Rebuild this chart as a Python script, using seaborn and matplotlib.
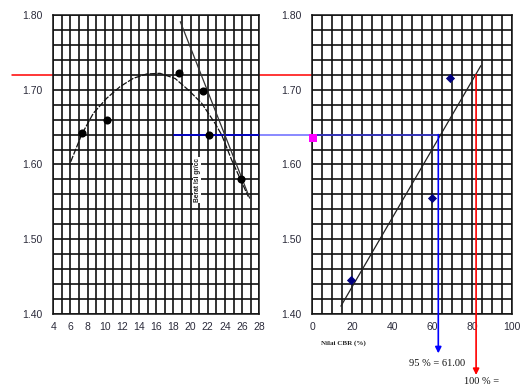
import numpy as np
import pandas as pd
import matplotlib
matplotlib.use("Agg")
import matplotlib.pyplot as plt
import matplotlib.transforms as mtransforms
from matplotlib.lines import Line2D
from matplotlib.ticker import MultipleLocator, FormatStrFormatter
import seaborn as sns

# ---------------- data ----------------
# left panel: water content (%) vs dry density
kadar_air = [7.34, 10.29, 18.7, 21.4, 22.14, 25.83]
berat_isi = [1.642, 1.6595, 1.722, 1.6987, 1.6395, 1.580]

# compaction curve drawn through the points
curve_x = [6.03, 7.3, 8.66, 10.22, 11.77, 13.32, 14.88, 16.43, 18.2, 19.73,
           21.29, 22.84, 23.62, 24.78, 25.75, 26.72]
curve_y = [1.6037, 1.640, 1.6685, 1.6886, 1.7041, 1.7153, 1.7211, 1.722, 1.715, 1.6997,
           1.6819, 1.6551, 1.6395, 1.606, 1.5815, 1.557]

# steep straight line (zero-air-voids style) end points
zav_x = [18.8, 26.88]
zav_y = [1.791, 1.555]

# right panel: CBR value (%) vs dry density
cbr = [19.35, 60.0, 68.85]
cbr_isi = [1.4455, 1.5548, 1.7153]
trend_range = [14.3, 84.3]

mdd = 1.72          # maximum dry density level (100 %)
mdd95 = 1.64        # 95 % level
cbr95_x = 63.0
cbr100_x = 81.9
pink_pt = (0.5, 1.635)

left_xticks = list(range(4, 29, 2))
right_xticks = list(range(0, 101, 20))
yticks = [1.40, 1.50, 1.60, 1.70, 1.80]

label_95 = "95 % = 61.00"
label_100 = "100 % ="
xlabel_right = "Nilai CBR (%)"
ylabel_rot = "Berat Isi gr/cc"

# ---------------- figure ----------------
sns.set_style("white")
plt.rcParams['font.family'] = ['Liberation Sans', 'DejaVu Sans']

W, H = 523, 387
fig = plt.figure(figsize=(W / 100, H / 100), dpi=100)
bottom = (H - 314) / H
height = 299 / H
ax1 = fig.add_axes([53.3 / W, bottom, 206 / W, height])
ax2 = fig.add_axes([312.3 / W, bottom, 200 / W, height])

tick_col = '#2b2b3b'
for ax, xmin, xmax, xmajor, xminor, xt in [
        (ax1, 4, 28, 2, 1, left_xticks),
        (ax2, 0, 100, 20, 5, right_xticks)]:
    ax.set_xlim(xmin, xmax)
    ax.set_ylim(1.40, 1.80)
    ax.set_xticks(xt)
    ax.set_yticks(yticks)
    ax.xaxis.set_minor_locator(MultipleLocator(xminor))
    ax.yaxis.set_minor_locator(MultipleLocator(0.02))
    ax.yaxis.set_major_formatter(FormatStrFormatter('%.2f'))
    ax.grid(which='both', color='#111111', lw=1.2)
    ax.set_axisbelow(True)
    ax.tick_params(which='major', direction='out', length=3, width=0.8,
                   color='#333333', labelsize=7.5, labelcolor=tick_col, pad=3)
    ax.tick_params(which='minor', length=0)
    ax.tick_params(axis='y', pad=5)
    for s in ax.spines.values():
        s.set_color('#111111')
        s.set_linewidth(1.1)
    ax.set_xlabel('')
    ax.set_ylabel('')

# guide lines outside the axes (figure level, hidden behind axes faces)
blend1 = mtransforms.blended_transform_factory(fig.transFigure, ax1.transData)
fig.add_artist(Line2D([12 / W, 312.3 / W], [mdd, mdd], transform=blend1,
                      color='#ff0000', lw=1.1, zorder=-1))
fig.add_artist(Line2D([250 / W, 312.3 / W], [mdd95, mdd95], transform=blend1,
                      color='#8080ff', lw=1.3, zorder=-1))

# ---- left panel ----
ax1.plot([18.1, 28], [mdd95, mdd95], color='#0000cc', lw=1.3, zorder=3)
sns.lineplot(x=curve_x, y=curve_y, sort=False, ax=ax1, color='#111111', lw=0.9,
             linestyle=(0, (5, 1.2)), zorder=4)
sns.lineplot(x=zav_x, y=zav_y, sort=False, ax=ax1, color='#333333', lw=0.9, zorder=4)
sns.scatterplot(x=kadar_air, y=berat_isi, ax=ax1, color='black', s=34,
                edgecolor='black', linewidth=0, zorder=5)
ax1.text(20.75, 1.579, ylabel_rot, rotation=90, fontsize=4.8, fontweight='bold',
         ha='center', va='center', color='#222222', zorder=6,
         bbox=dict(facecolor='white', edgecolor='none', pad=0.6))

# ---- right panel ----
df = pd.DataFrame({'cbr': cbr, 'isi': cbr_isi})
coef = np.polyfit(df['cbr'], df['isi'], 1)
tx = np.array(trend_range)
sns.lineplot(x=tx, y=np.polyval(coef, tx), ax=ax2, color='#222222', lw=0.9, zorder=4)
sns.scatterplot(data=df, x='cbr', y='isi', ax=ax2, marker='D', s=22,
                color='#000080', edgecolor='#000080', linewidth=0, zorder=5)
ax2.set_xlabel('')
ax2.set_ylabel('')

ax2.plot([0, cbr95_x], [mdd95, mdd95], color='#3535d0', lw=1.2, zorder=3)
ax2.annotate('', xy=(cbr95_x, 1.3474), xytext=(cbr95_x, mdd95),
             arrowprops=dict(arrowstyle='-|>', color='#0000ff', lw=1.2,
                             mutation_scale=9, shrinkA=0, shrinkB=0),
             annotation_clip=False, zorder=6)
ax2.annotate('', xy=(cbr100_x, 1.3184), xytext=(cbr100_x, mdd),
             arrowprops=dict(arrowstyle='-|>', color='#ff0000', lw=1.2,
                             mutation_scale=9, shrinkA=0, shrinkB=0),
             annotation_clip=False, zorder=6)
ax2.scatter([pink_pt[0]], [pink_pt[1]], marker='s', s=30, color='#ff00ff',
            clip_on=False, zorder=7, linewidths=0)

# texts
fig.text(343 / W, 1 - 343 / H, xlabel_right, fontsize=5, fontweight='bold',
         family='Liberation Serif', ha='center', va='center', color='#222222')
fig.text(437.5 / W, 1 - 363.5 / H, label_95, fontsize=7.5,
         family='Liberation Serif', ha='center', va='center', color='#111111')
fig.text(482 / W, 1 - 381.5 / H, label_100, fontsize=7.5,
         family='Liberation Serif', ha='center', va='center', color='#111111')

fig.savefig('out.png', dpi=100)
